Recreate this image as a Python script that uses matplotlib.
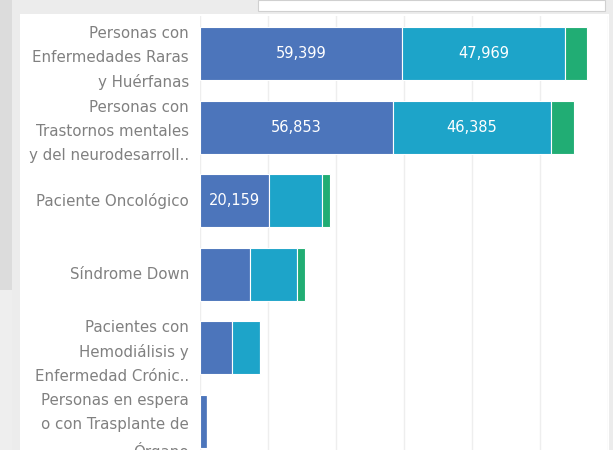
import numpy as np
import matplotlib.pyplot as plt
from matplotlib.patches import Rectangle
from matplotlib.transforms import ScaledTranslation

categories = [
    "Personas con\nEnfermedades Raras\ny Huérfanas",
    "Personas con\nTrastornos mentales\ny del neurodesarroll..",
    "Paciente Oncológico",
    "Síndrome Down",
    "Pacientes con\nHemodiálisis y\nEnfermedad Crónic..",
    "Personas en espera\no con Trasplante de\nÓrgano",
]
serie_a = [59399, 56853, 20159, 14700, 9400, 2000]
serie_b = [47969, 46385, 15600, 13800, 8300, 0]
serie_c = [6500, 6900, 2400, 2500, 0, 0]
labels_a = ["59,399", "56,853", "20,159", "", "", ""]
labels_b = ["47,969", "46,385", "", "", "", ""]

colors = ["#4c75bb", "#1da4c9", "#21ad74"]
W, H = 613, 450

fig = plt.figure(figsize=(W / 100, H / 100), dpi=100)
fig.patch.set_facecolor("#ececec")

# background panels (figure pixel coords -> fraction), kept behind the axes
def px_rect(x0, y0, x1, y1, **kw):
    fig.add_artist(Rectangle((x0 / W, 1 - y1 / H), (x1 - x0) / W, (y1 - y0) / H,
                             transform=fig.transFigure, zorder=-5, **kw))

px_rect(0, 0, 12, 290, facecolor="#dcdcdc", edgecolor="none")
px_rect(0, 290, 12, 450, facecolor="#eeeeee", edgecolor="none")
px_rect(20, 14, 609, 450, facecolor="white", edgecolor="none")
px_rect(258, 0, 605, 11, facecolor="white", edgecolor="#d0d0d0", linewidth=0.8)

ax = fig.add_axes([200 / W, 0, (608 - 200) / W, (H - 16) / H])
ax.set_facecolor("none")

y = np.arange(len(categories))
h = 0.72
b1 = ax.barh(y, serie_a, height=h, color=colors[0], edgecolor="white", linewidth=0.8)
b2 = ax.barh(y, serie_b, left=serie_a, height=h, color=colors[1], edgecolor="white", linewidth=0.8)
left_c = np.array(serie_a) + np.array(serie_b)
b3 = ax.barh(y, serie_c, left=left_c, height=h, color=colors[2], edgecolor="white", linewidth=0.8)

ax.bar_label(b1, labels=labels_a, label_type="center", color="white", fontsize=10.5)
ax.bar_label(b2, labels=labels_b, label_type="center", color="white", fontsize=10.5)

ax.set_xlim(0, 120000)
ax.set_ylim(5.39, -0.51)
ax.set_xticks(np.arange(0, 120001, 20000))
ax.grid(axis="x", color="#eeeeee", linewidth=1)
ax.set_axisbelow(True)
ax.tick_params(axis="x", length=0, labelbottom=False)
ax.tick_params(axis="y", length=0, pad=8)
ax.set_yticks(y)
ax.set_yticklabels(categories, fontsize=10.8, color="#808080", linespacing=1.72)
shift = ScaledTranslation(0, 1.5 / 100, fig.dpi_scale_trans)
for lab in ax.get_yticklabels():
    lab.set_transform(lab.get_transform() + shift)
for s in ax.spines.values():
    s.set_visible(False)

fig.savefig("out.png", dpi=100)
